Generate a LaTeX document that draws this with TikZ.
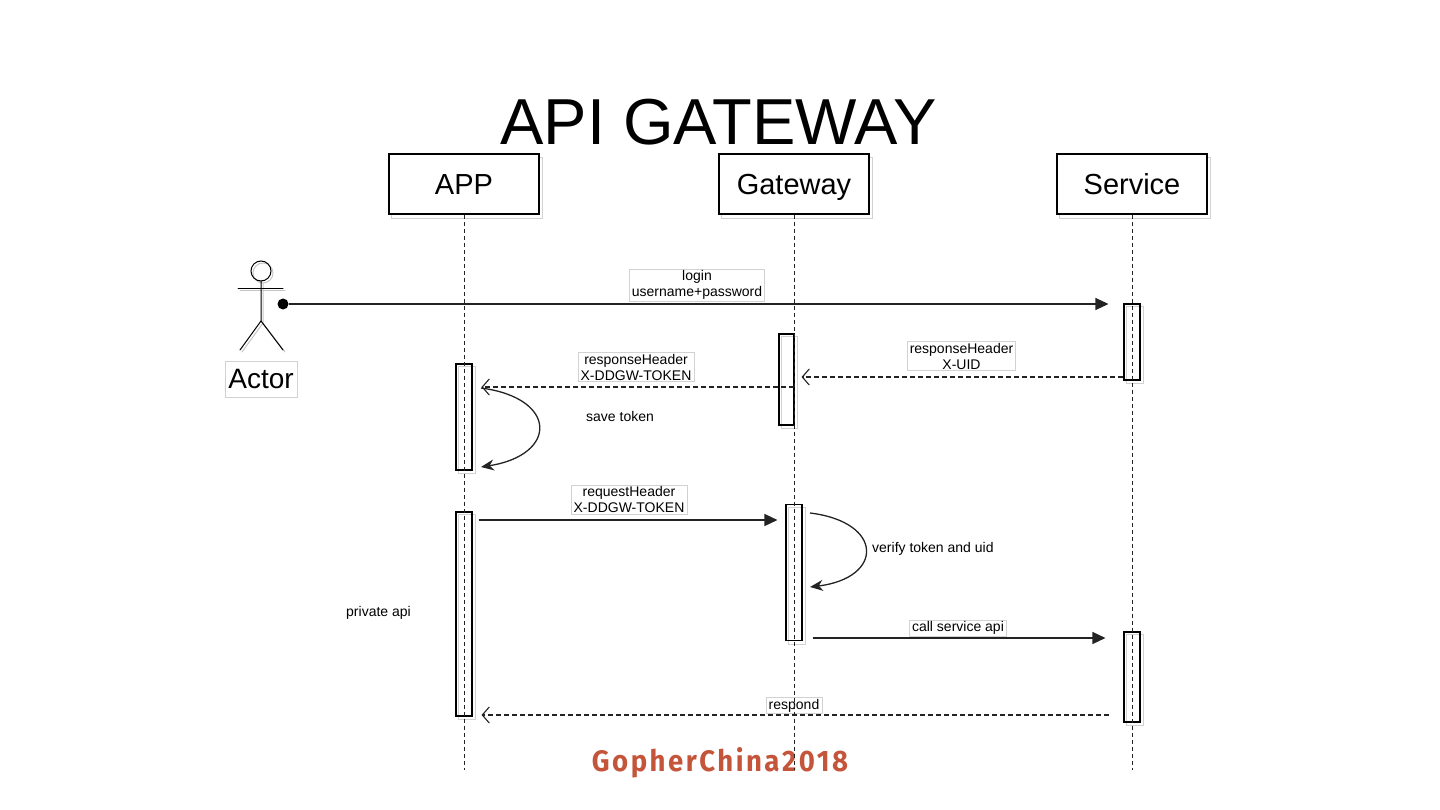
\documentclass[tikz,border=0pt]{standalone}
\usepackage{fontspec}
\setmainfont{Liberation Sans}
\newfontfamily\gopherfont[LetterSpace=9]{Fira Sans}
\usetikzlibrary{arrows.meta,calc}
\definecolor{gopher}{RGB}{196,85,58}
\definecolor{ink}{RGB}{35,35,35}
\pgfdeclarelayer{bg}
\pgfsetlayers{bg,main}
\begin{document}
\begin{tikzpicture}[x=1pt,y=-1pt,
  head/.style={draw=black, line width=1.3pt, fill=white, minimum width=150pt, minimum height=60pt, inner sep=0pt, font=\fontsize{29}{30}\selectfont, text height=22pt, text depth=0pt},
  bar/.style={draw=black, line width=1.1pt, minimum width=16pt, inner sep=0pt},
  lbl/.style={draw=gray!35, line width=0.6pt, fill=white, font=\fontsize{14}{16}\selectfont, align=center, inner xsep=2.5pt, inner ysep=1.5pt},
  txt/.style={font=\fontsize{14}{16}\selectfont, inner sep=0pt, anchor=west},
  life/.style={draw=ink, line width=0.8pt, dash pattern=on 4pt off 3pt},
  msg/.style={draw=ink, line width=1.4pt, -{Triangle[length=13pt,width=12pt]}},
  ret/.style={draw=ink, line width=1.1pt, dash pattern=on 5pt off 3pt, -{Straight Barb[length=7pt,width=16pt,line width=1.1pt]}},
  selfc/.style={draw=ink, line width=1.3pt, -{Stealth[length=13pt,width=11pt]}},
  shadowbox/.style={draw=gray!35, line width=1pt},
  stick/.style={line width=1pt, line cap=round}
]
\path[use as bounding box] (0,0) rectangle (1440,810);

% title
\node[font=\fontsize{65}{70}\selectfont, anchor=base, inner sep=0pt] (title) at (718.5,145) {API GATEWAY};

% lifeline heads
\node[head] (app) at (464,184) {APP};
\node[head] (gw) at (794,184) {Gateway};
\node[head] (svc) at (1132,184) {Service};

% activation bars
\node[bar, minimum height=106pt] (ab1) at (464,417) {};
\node[bar, minimum height=204pt] (ab2) at (464,614) {};
\node[bar, minimum height=91pt, minimum width=15pt] (gb1) at (786.5,379.5) {};
\node[bar, minimum height=136pt] (gb2) at (794,572.5) {};
\node[bar, minimum height=76pt] (sb1) at (1132,342) {};
\node[bar, minimum height=90pt] (sb2) at (1132,677) {};

\begin{pgfonlayer}{bg}
  \foreach \n in {app,gw,svc}
    \draw[shadowbox] ([shift={(3,4)}]\n.south west) rectangle ([shift={(3,4)}]\n.north east);
  \foreach \n in {ab1,ab2,gb1,gb2,sb1,sb2}
    \draw[shadowbox, line width=0.8pt] ([shift={(3,3)}]\n.south west) rectangle ([shift={(3,3)}]\n.north east);
\end{pgfonlayer}

% actor
\begin{scope}[shift={(2,2)}]
  \draw[stick, gray!45] (261,271) circle (10pt);
  \draw[stick, gray!45] (238,289) -- (283,289);
  \draw[stick, gray!45] (261,281) -- (261,321) -- (240,350);
  \draw[stick, gray!45] (261,321) -- (283,350);
\end{scope}
\draw[stick] (261,271) circle (10pt);
\draw[stick] (238,289) -- (283,289);
\draw[stick] (261,281) -- (261,321) -- (240,350);
\draw[stick] (261,321) -- (283,350);
\node[draw=gray!35, line width=0.6pt, fill=white, font=\fontsize{28}{30}\selectfont, inner sep=1pt, minimum width=72pt, minimum height=36pt] (actorlbl) at (261,379) {Actor};
\node[circle, fill=black, inner sep=0pt, minimum size=11pt] (dot) at (283,304) {};

% login
\draw[msg, shorten >=15pt] (dot.east) -- (dot -| sb1.west);
\node[lbl] (l1) at (697,285) {login\\username+password};

% responseHeader X-UID
\draw[ret, shorten >=7pt] (sb1.west |- 0,377) -- (gb1.east |- 0,377);
\node[lbl] (l2) at (961.5,356) {responseHeader\\X-UID};

% responseHeader X-DDGW-TOKEN
\draw[ret, shorten >=9pt] (gw.south |- 0,387) -- (ab1.east |- 0,387);
\node[lbl] (l3) at (636,367) {responseHeader\\X-DDGW-TOKEN};

% save token
\coordinate (s1a) at (481,388);
\coordinate (s1b) at (481,467);
\draw[selfc] (s1a) .. controls (558,398) and (558,455) .. (s1b);
\node[txt] (t1) at (586,416) {save token};

% request
\draw[msg, shorten <=6pt, shorten >=8pt] (ab2.east |- 0,520) -- (gb2.west |- 0,520);
\node[lbl] (l4) at (629,499.5) {requestHeader\\X-DDGW-TOKEN};

% verify
\coordinate (v1a) at (810,513);
\coordinate (v1b) at (810,587);
\draw[selfc] (v1a) .. controls (884,522) and (884,578) .. (v1b);
\node[txt] (t2) at (872,549) {verify token and uid};

% call service api
\draw[msg, shorten <=10pt, shorten >=18pt] (gb2.east |- 0,638) -- (sb2.west |- 0,638);
\node[lbl] (l5) at (958,628) {call service api};

% private api
\node[txt] (t3) at (346,613) {private api};

% respond
\draw[ret, shorten <=14pt, shorten >=9pt] (sb2.west |- 0,715) -- (ab2.east |- 0,715);
\node[lbl] (l6) at (794,705.5) {respond};

% logo
\node[text=gopher, anchor=base, inner sep=0pt] (logo) at (720,771) {\resizebox{256pt}{24pt}{\gopherfont\bfseries GopherChina2018}};

% lifelines
\draw[life] (app.south) -- (app.south |- 0,770);
\draw[life] (gw.south) -- (gw.south |- 0,770);
\draw[life] (svc.south) -- (svc.south |- 0,770);
\end{tikzpicture}
\end{document}
